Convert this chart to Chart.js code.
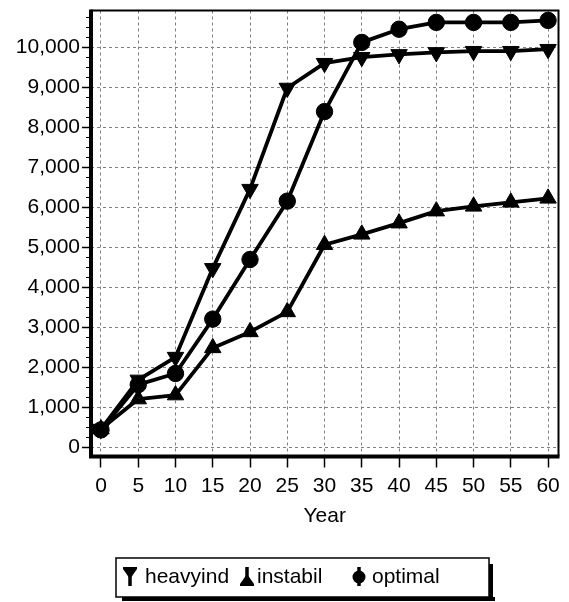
<!DOCTYPE html>
<html>
<head>
<meta charset="utf-8">
<script src="https://cdn.jsdelivr.net/npm/chart.js@4/dist/chart.umd.min.js"></script>
<style>
  html, body { margin: 0; padding: 0; background: #fff; }
  #wrap { width: 569px; height: 602px; }
</style>
</head>
<body>
<div id="wrap"><canvas id="chart" width="569" height="602"></canvas></div>
<script>
const years = [0, 5, 10, 15, 20, 25, 30, 35, 40, 45, 50, 55, 60];
const heavyind = [450, 1680, 2250, 4470, 6450, 8980, 9600, 9750, 9820, 9870, 9900, 9900, 9950];
const instabil = [450, 1200, 1300, 2480, 2880, 3380, 5060, 5320, 5600, 5900, 6020, 6120, 6220];
const optimal = [430, 1560, 1840, 3200, 4690, 6150, 8390, 10120, 10450, 10620, 10620, 10620, 10670];
const seriesNames = ['heavyind', 'instabil', 'optimal'];
const xTicks = [0, 5, 10, 15, 20, 25, 30, 35, 40, 45, 50, 55, 60];
const yTicks = [0, 1000, 2000, 3000, 4000, 5000, 6000, 7000, 8000, 9000, 10000];
const yMinorStep = 250;

const FONT = '"Liberation Sans", Arial, sans-serif';

function toPoints(values) {
    return years.map((y, i) => ({ x: y, y: values[i] }));
}

// frame, minor ticks and the boxed legend
const extras = {
    id: 'extras',
    afterDraw(chart) {
        const ctx = chart.ctx;
        const a = chart.chartArea;
        const ys = chart.scales.y;
        ctx.save();
        ctx.setLineDash([]);
        ctx.strokeStyle = '#000';

        // minor ticks on y
        ctx.lineWidth = 1;
        for (let v = 0; v <= ys.max; v += yMinorStep) {
            if (v % 1000 === 0) continue;
            const py = Math.round(ys.getPixelForValue(v)) + 0.5;
            ctx.beginPath();
            ctx.moveTo(a.left - 5, py);
            ctx.lineTo(a.left, py);
            ctx.stroke();
        }

        // thin top / right
        ctx.lineWidth = 2;
        ctx.beginPath();
        ctx.moveTo(a.left, a.top);
        ctx.lineTo(a.right, a.top);
        ctx.lineTo(a.right, a.bottom);
        ctx.stroke();
        // thick left / bottom
        ctx.lineWidth = 4;
        ctx.beginPath();
        ctx.moveTo(a.left, a.top - 1);
        ctx.lineTo(a.left, a.bottom);
        ctx.lineTo(a.right + 1, a.bottom);
        ctx.stroke();

        // legend box with shadow
        const bx = 116, by = 558, bw = 373, bh = 39;
        ctx.fillStyle = '#000';
        ctx.fillRect(bx + 6, by + bh, bw, 4);
        ctx.fillRect(bx + bw, by + 6, 4, bh - 2);
        ctx.fillStyle = '#fff';
        ctx.fillRect(bx, by, bw, bh);
        ctx.lineWidth = 1.5;
        ctx.strokeRect(bx, by, bw, bh);

        const mx = [130, 247, 359];
        const tx = [145, 257, 372];
        ctx.font = '21px ' + FONT;
        ctx.textBaseline = 'alphabetic';
        ctx.textAlign = 'left';
        chart.data.datasets.forEach((ds, i) => {
            const x = mx[i];
            ctx.fillStyle = '#000';
            ctx.lineWidth = 3.5;
            ctx.beginPath();
            ctx.moveTo(x, 567);
            ctx.lineTo(x, 586);
            ctx.stroke();
            ctx.beginPath();
            if (i === 0) {
                ctx.moveTo(x - 7, 567);
                ctx.lineTo(x + 7, 567);
                ctx.lineTo(x + 7, 569);
                ctx.lineTo(x, 579);
                ctx.lineTo(x - 7, 569);
            } else if (i === 1) {
                ctx.moveTo(x - 7, 586);
                ctx.lineTo(x + 7, 586);
                ctx.lineTo(x + 7, 584);
                ctx.lineTo(x, 574);
                ctx.lineTo(x - 7, 584);
            } else {
                ctx.arc(x, 577, 6.5, 0, Math.PI * 2);
            }
            ctx.closePath();
            ctx.fill();
            ctx.fillText(ds.label, tx[i], 583);
        });
        ctx.restore();
    }
};

const lineStyle = {
    borderColor: '#000',
    backgroundColor: '#000',
    pointBackgroundColor: '#000',
    pointBorderColor: '#000',
    pointBorderWidth: 1,
    borderWidth: 3.8,
    tension: 0,
    fill: false
};

const ctx = document.getElementById('chart').getContext('2d');
const myChart = new Chart(ctx, {
    type: 'line',
    data: {
        datasets: [
            Object.assign({}, lineStyle, {
                label: seriesNames[0],
                data: toPoints(heavyind),
                pointStyle: 'triangle',
                rotation: 180,
                pointRadius: 9.5
            }),
            Object.assign({}, lineStyle, {
                label: seriesNames[1],
                data: toPoints(instabil),
                pointStyle: 'triangle',
                pointRadius: 9.5
            }),
            Object.assign({}, lineStyle, {
                label: seriesNames[2],
                data: toPoints(optimal),
                pointStyle: 'circle',
                pointRadius: 8.2
            })
        ]
    },
    options: {
        responsive: false,
        animation: false,
        events: [],
        layout: { padding: { top: 7, right: 8.5, bottom: 65.5, left: 0 } },
        plugins: {
            legend: { display: false },
            tooltip: { enabled: false }
        },
        elements: { line: { borderCapStyle: 'round', borderJoinStyle: 'round' } },
        scales: {
            x: {
                type: 'linear',
                min: -1.34,
                max: 61.4,
                afterBuildTicks(scale) { scale.ticks = xTicks.map(v => ({ value: v })); },
                afterFit(scale) {
                    scale.height = 80;
                    scale.paddingLeft = 0;
                    scale.paddingRight = 0;
                },
                ticks: {
                    color: '#000',
                    font: { family: FONT, size: 21 },
                    padding: 6,
                    maxRotation: 0,
                    autoSkip: false
                },
                grid: {
                    color: '#808080',
                    lineWidth: 1,
                    tickColor: '#000',
                    tickLength: 11,
                    tickWidth: 1.5,
                    tickBorderDash: []
                },
                border: { display: false, dash: [3, 3] },
                title: {
                    display: true,
                    text: 'Year',
                    color: '#000',
                    font: { family: FONT, size: 21 },
                    padding: { top: 0, bottom: 8 }
                }
            },
            y: {
                type: 'linear',
                min: -236,
                max: 10918,
                afterBuildTicks(scale) { scale.ticks = yTicks.map(v => ({ value: v })); },
                afterFit(scale) {
                    scale.width = 91;
                    scale.paddingTop = 0;
                    scale.paddingBottom = 0;
                },
                ticks: {
                    color: '#000',
                    font: { family: FONT, size: 21 },
                    padding: 2,
                    callback: v => v.toLocaleString('en-US')
                },
                grid: {
                    color: '#808080',
                    lineWidth: 1,
                    tickColor: '#000',
                    tickLength: 9,
                    tickWidth: 1.5,
                    tickBorderDash: []
                },
                border: { display: false, dash: [3, 3] }
            }
        }
    },
    plugins: [extras]
});
</script>
</body>
</html>
